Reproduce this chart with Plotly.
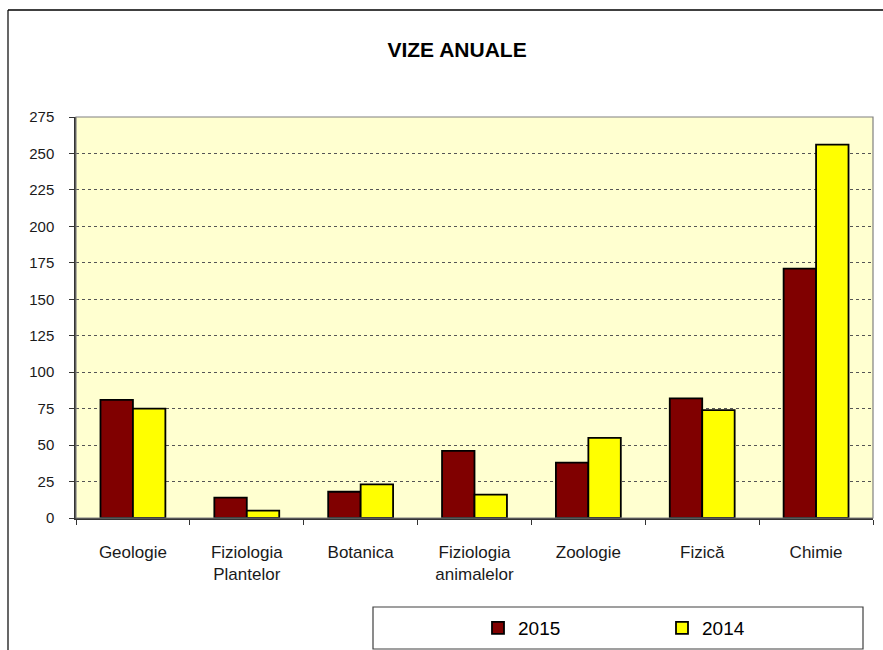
import plotly.graph_objects as go

categories = ["Geologie", "Fiziologia<br>Plantelor", "Botanica", "Fiziologia<br>animalelor",
              "Zoologie", "Fizică", "Chimie"]
values_2015 = [81, 14, 18, 46, 38, 82, 171]
values_2014 = [75, 5, 23, 16, 55, 74, 256]
y_ticks = [0, 25, 50, 75, 100, 125, 150, 175, 200, 225, 250, 275]

FONT = "Liberation Sans, Arial, sans-serif"

fig = go.Figure()
fig.add_trace(go.Bar(name="2015", x=categories, y=values_2015,
                     marker=dict(color="#800000", line=dict(color="#000000", width=1.8))))
fig.add_trace(go.Bar(name="2014", x=categories, y=values_2014,
                     marker=dict(color="#FFFF00", line=dict(color="#000000", width=1.8))))

fig.update_layout(
    width=883, height=650,
    autosize=False,
    margin=dict(l=76, r=10, t=117, b=132, autoexpand=False),
    paper_bgcolor="white",
    plot_bgcolor="#FFFFD0",
    barmode="group",
    bargap=0.43,
    bargroupgap=0,
    font=dict(family=FONT, color="#1a1a1a"),
    title=dict(text="<b>VIZE ANUALE</b>", x=0.5176, xanchor="center", y=0.924, yanchor="middle",
               font=dict(size=21, family=FONT, color="#000000")),
    showlegend=True,
    legend=dict(orientation="h", xref="container", yref="container",
                x=478 / 883, y=1 - 628 / 650, xanchor="left", yanchor="middle",
                bgcolor="rgba(0,0,0,0)", borderwidth=0,
                font=dict(size=19, family=FONT, color="#000000"),
                entrywidth=139, entrywidthmode="pixels", itemwidth=30, traceorder="normal"),
    shapes=[
        # legend box
        dict(type="rect", xref="paper", yref="paper", x0=(373 - 76) / 797, x1=(863 - 76) / 797,
             y0=(518 - 649) / 401, y1=(518 - 607) / 401,
             line=dict(color="#404040", width=1.2), fillcolor="rgba(0,0,0,0)", layer="below"),
        # outer frame (top and left edges)
        dict(type="line", xref="paper", yref="paper", x0=(8 - 76) / 797, x1=(890 - 76) / 797,
             y0=(518 - 10) / 401, y1=(518 - 10) / 401, line=dict(color="#000000", width=1.5)),
        dict(type="line", xref="paper", yref="paper", x0=(8 - 76) / 797, x1=(8 - 76) / 797,
             y0=(518 - 10) / 401, y1=(518 - 660) / 401, line=dict(color="#000000", width=1.2)),
    ],
)

fig.update_xaxes(
    automargin=False,
    tickson="boundaries", ticks="outside", ticklen=5, tickcolor="#333333",
    showline=True, linecolor="#333333", linewidth=1.5, mirror=False,
    tickfont=dict(size=17, family=FONT, color="#1a1a1a"),
    ticklabelstandoff=18,
    showgrid=False,
)
fig.update_yaxes(
    automargin=False,
    range=[0, 275], tickvals=y_ticks, ticks="outside", ticklen=5, tickcolor="#333333",
    showline=True, linecolor="#333333", linewidth=1.5,
    showgrid=True, gridcolor="#555555", griddash="dot", gridwidth=1,
    tickfont=dict(size=15, family=FONT, color="#1a1a1a"),
    ticklabelstandoff=12,
    zeroline=False,
)
# plot-area border (top and right)
fig.add_shape(type="rect", xref="paper", yref="paper", x0=0, x1=1, y0=0, y1=1,
              line=dict(color="#808080", width=1.2), fillcolor="rgba(0,0,0,0)")

fig.write_html("out.html", config={"displayModeBar": False},
               post_script="document.body.style.margin='0';document.body.style.overflow='hidden';")
